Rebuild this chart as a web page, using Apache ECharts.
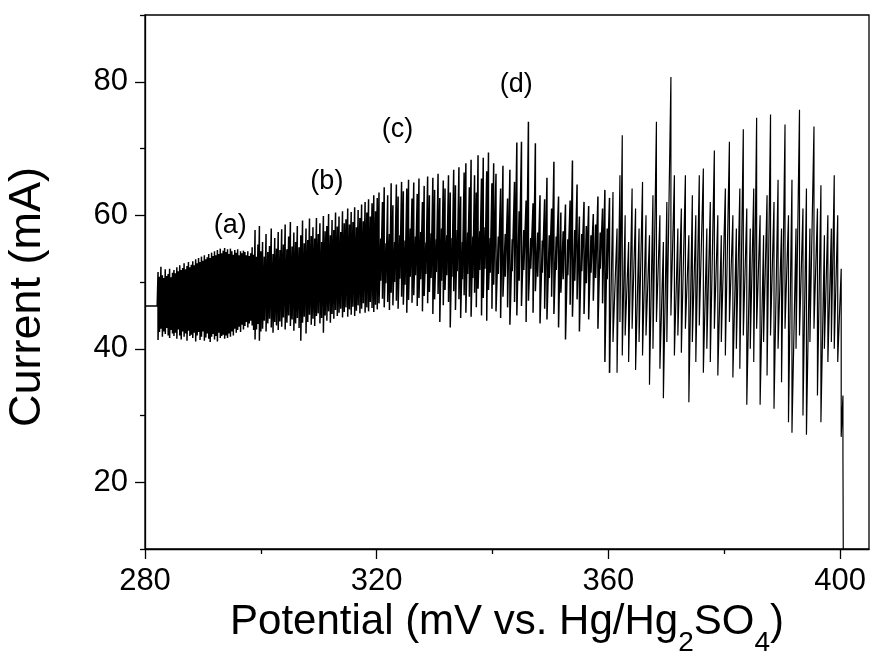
<!DOCTYPE html>
<html><head><meta charset="utf-8">
<script src="https://cdn.jsdelivr.net/npm/echarts@6/dist/echarts.min.js"></script>
<style>html,body{margin:0;padding:0;background:#fff}#c{width:872px;height:659px}</style>
</head><body><div id="c"></div>
<script>
// flat start of the trace
const leadPotential = [280, 282.1];
const leadCurrent = [46.4, 46.4];
// oscillations: potential (mV), upper current (mA), lower current (mA)
const oscPotential = [
282.25,282.5,282.75,283,283.25,283.5,283.75,284,284.25,284.5,284.75,285,
285.25,285.5,285.75,286,286.25,286.5,286.75,287,287.25,287.5,287.75,288,
288.25,288.5,288.75,289,289.25,289.5,289.75,290,290.25,290.5,290.75,291,
291.25,291.5,291.75,292,292.25,292.5,292.75,293,293.25,293.5,293.75,294,
294.25,294.5,294.75,295,295.25,295.5,295.75,296,296.25,296.5,296.75,297,
297.25,297.5,297.75,298,298.25,298.5,298.75,299,299.25,299.5,299.75,300,
300.3,300.6,300.9,301.2,301.5,301.8,302.1,302.4,302.7,303,
303.3,303.6,303.9,304.2,304.5,304.8,305.1,305.4,305.7,306,
306.3,306.6,306.9,307.2,307.5,307.8,308.1,308.4,308.7,309,
309.3,309.6,309.9,310.2,310.5,310.8,311.1,311.4,311.7,312,
312.3,312.6,312.9,313.2,313.5,313.8,314.1,314.4,314.7,315,
315.3,315.6,315.9,316.2,316.5,316.8,317.1,317.4,317.7,318,
318.3,318.6,318.9,319.2,319.5,319.8,320.1,
320.4,320.7,321,321.3,321.6,321.9,322.2,322.5,322.8,323.1,
323.4,323.7,324,324.3,324.6,324.9,325.2,325.5,325.8,326.1,
326.4,326.7,327,327.3,327.6,327.9,328.2,328.5,328.8,329.1,
329.4,329.7,330,330.3,330.6,330.9,331.2,331.5,331.8,332.1,
332.4,332.7,333,333.3,333.6,333.9,334.2,334.5,334.8,335.1,
335.4,335.7,336,336.3,336.6,336.9,337.2,337.5,337.8,338.1,
338.4,338.7,339,339.3,339.6,339.9,340.2,
340.6,341,341.4,341.8,342.2,342.6,343,343.4,343.8,344.2,
344.6,345,345.4,345.8,346.2,346.6,347,347.4,347.8,348.2,
348.6,349,349.4,349.8,350.2,350.6,351,351.4,351.8,352.2,
352.6,353,353.4,353.8,354.2,354.6,355,355.4,355.8,356.2,
356.6,357,357.4,357.8,358.2,358.6,359,359.4,359.8,360.2,
360.8,361.5,362.0,362.4,362.9,363.5,364.1,364.7,365.3,365.9,
366.5,367.1,367.7,368.3,368.9,369.5,370.1,370.8,371.4,372.0,
372.6,373.3,373.9,374.5,375.1,375.7,376.4,377.0,377.6,378.3,
378.9,379.5,380.2,380.9,381.5,382.1,382.7,383.3,383.9,384.5,
385.1,385.6,386.2,386.8,387.4,388.0,388.6,389.3,389.9,390.5,
391.1,391.7,392.4,393.0,393.6,394.2,394.8,395.5,396.1,396.7,
397.3,397.9,398.5,399.0,399.6,400.2,400.5
];
const oscHigh = [
51.5,50.8,52.3,51.0,50.6,51.9,50.9,51.2,52.0,50.7,51.4,51.8,
51.3,52.2,51.6,52.5,51.8,52.1,52.8,51.9,52.4,53.0,52.2,52.6,
53.1,52.5,53.4,52.8,53.6,53.0,53.8,53.2,54.0,53.4,53.7,54.2,
53.6,54.4,53.9,54.6,54.0,54.8,54.2,55.0,54.3,54.7,55.1,54.5,
54.9,54.2,55.0,54.6,54.1,54.8,54.4,54.9,54.0,54.6,54.3,54.7,
54.5,54.0,54.6,53.9,54.3,55.2,54.1,57.8,53.8,55.6,58.4,54.6,
56.0,53.8,57.2,54.5,55.4,58.0,54.2,56.6,55.0,57.5,
54.8,57.9,55.6,58.6,54.9,56.8,59.0,55.3,57.4,56.0,
58.4,55.2,57.0,59.2,55.8,58.0,56.3,59.5,56.9,58.2,
56.5,59.6,57.2,58.8,56.0,59.9,57.6,58.4,60.2,57.0,
59.3,57.8,60.4,58.3,59.8,57.5,60.6,58.8,59.4,61.0,
58.6,60.5,59.0,61.2,58.2,60.8,59.6,61.6,59.1,62.0,
60.4,62.4,59.8,61.8,63.0,60.6,62.6,
63.4,56.5,62.0,64.2,55.8,63.0,57.2,64.8,61.5,56.0,
64.6,62.8,57.0,65.0,63.6,56.2,64.0,65.3,58.0,62.5,
64.9,56.8,63.2,65.5,57.5,62.0,64.4,55.9,65.8,63.0,
57.3,65.6,63.8,56.4,66.2,62.6,58.0,65.2,64.0,57.0,
66.0,63.4,56.6,66.8,64.5,57.8,67.2,62.8,56.0,66.4,
67.8,57.4,64.2,68.3,56.8,66.0,63.4,69.0,57.6,65.5,
68.6,58.2,66.6,69.4,56.6,64.8,67.8,
66.2,56.8,64.0,67.4,57.2,62.5,66.8,56.4,65.0,70.9,
60.6,71.0,57.8,62.2,74.0,56.6,61.8,70.8,57.4,63.0,
56.2,62.4,65.6,57.0,61.0,68.0,56.8,62.8,60.4,57.6,
61.6,56.4,62.2,68.2,57.8,64.6,59.8,57.2,62.0,58.4,
61.4,57.0,60.2,58.6,62.8,57.4,61.0,63.8,58.0,62.6,
63.5,58.0,66.0,72.0,60.0,56.0,64.0,61.0,58.0,65.0,
60.0,57.0,63.0,74.0,60.0,56.0,62.0,80.7,66.0,58.0,
61.0,66.0,57.0,63.0,60.0,66.0,67.0,58.0,62.0,69.7,
60.0,57.0,64.0,71.0,60.0,58.0,64.0,72.9,61.0,58.0,
64.0,74.6,60.0,57.0,63.0,75.1,62.0,65.3,58.0,73.6,
60.0,65.3,58.0,75.8,61.0,64.0,58.0,73.3,61.0,64.5,
57.0,60.0,58.0,66.0,60.0,52.0,33.0
];
const oscLow = [
41.3,42.5,43.0,41.8,42.6,42.2,43.1,42.0,41.6,42.8,42.3,41.9,
42.4,41.5,42.9,42.0,41.4,42.6,41.8,42.3,41.2,42.7,41.9,42.1,
41.6,42.4,41.1,42.0,42.5,41.3,41.8,42.6,41.2,41.7,42.3,41.5,
41.0,41.8,42.2,41.4,41.9,41.1,42.4,41.6,41.9,42.1,41.5,42.0,
41.6,42.3,41.8,42.6,42.0,43.0,42.4,42.8,43.3,42.5,43.6,42.9,
43.4,44.0,43.2,43.8,44.2,43.5,42.8,41.4,42.9,43.7,41.2,42.6,
43.0,44.2,42.6,43.8,44.5,43.2,42.4,44.0,43.5,42.8,
44.1,43.3,44.7,42.9,43.9,45.0,43.4,44.4,42.7,43.8,
44.6,43.1,41.2,43.9,44.8,42.3,44.0,45.1,43.6,44.5,
43.4,44.9,45.3,43.8,44.6,42.4,45.0,44.2,45.6,43.9,
45.2,44.5,45.8,44.9,45.4,46.0,44.7,45.5,46.2,44.8,
45.9,45.1,46.3,44.9,45.7,46.5,45.3,46.0,46.8,45.4,
46.2,45.6,47.0,46.1,45.5,46.6,45.9,
46.8,50.2,47.5,46.2,49.8,47.0,45.8,48.4,46.5,50.0,
47.2,46.0,50.5,47.8,46.6,49.6,45.4,47.3,50.8,46.9,
48.0,51.0,46.4,47.6,50.4,45.6,47.9,51.2,46.8,48.5,
50.6,45.2,47.4,51.5,48.2,44.0,50.2,46.5,48.8,51.0,
47.0,43.2,50.8,48.6,45.8,51.6,47.4,44.6,50.4,48.0,
45.4,51.2,47.8,44.8,50.6,48.4,46.2,49.0,51.8,45.0,
47.6,52.0,44.2,48.8,51.4,46.0,49.6,
45.6,51.2,44.6,47.8,50.8,46.2,43.6,51.6,47.0,45.0,
50.2,46.4,51.8,44.0,47.2,52.0,45.4,48.6,50.8,43.8,
51.4,46.0,44.4,50.6,47.8,45.2,51.8,43.2,48.4,50.4,
41.4,51.0,46.6,44.8,50.2,47.4,42.6,51.6,45.2,49.8,
44.4,51.4,47.2,50.6,43.0,52.0,46.8,38.0,50.4,36.4,
41.0,36.4,44.0,39.0,42.0,38.0,43.0,36.8,41.0,39.0,
42.0,34.6,40.0,44.0,37.0,32.6,41.0,45.0,39.0,42.0,
39.4,43.0,32.0,41.0,38.0,43.5,36.4,40.0,38.0,43.0,
36.0,41.0,39.0,44.0,35.7,40.0,37.0,42.0,31.6,40.0,
38.0,43.0,31.6,41.0,36.0,42.0,31.0,40.0,35.0,43.0,
29.0,27.4,40.0,42.0,30.0,27.1,41.0,43.0,33.0,29.0,
40.0,38.0,41.0,40.0,38.0,26.8,24.0
];
// final collapse of the current
const endPotential = [400.6];
const endCurrent = [0];
// potential where the dense regime gives way to large oscillations
const regimeSplit = 360.2;

const xMajorTicks = [280, 320, 360, 400];
const xMinorTicks = [300, 340, 380];
const yMajorTicks = [20, 40, 60, 80];
const yMinorTicks = [10, 30, 50, 70, 90];

const noteTexts = ['(a)', '(b)', '(c)', '(d)'];
const notePotential = [294.7, 311.4, 323.6, 344.1];
const noteCurrent = [58.5, 65.0, 72.8, 79.6];

const FONT = '"Liberation Sans", Arial, sans-serif';

const dense = [], large = [];
for (let i = 0; i < leadPotential.length; i++) dense.push([leadPotential[i], leadCurrent[i]]);
for (let i = 0; i < oscPotential.length; i++) {
  const a = [oscPotential[i], oscHigh[i]], b = [oscPotential[i], oscLow[i]];
  if (oscPotential[i] <= regimeSplit) { dense.push(a, b); }
  else { large.push(a, b); }
}
large.unshift(dense[dense.length - 1]);
for (let i = 0; i < endPotential.length; i++) large.push([endPotential[i], endCurrent[i]]);

const notes = noteTexts.map((t, i) => ({ name: t, value: [notePotential[i], noteCurrent[i]] }));

const black = '#000';
const chart = echarts.init(document.getElementById('c'));
chart.setOption({
  animation: false,
  backgroundColor: '#fff',
  textStyle: { fontFamily: FONT },
  grid: { left: 145, right: 3, top: 15, bottom: 110, show: true, borderColor: black, borderWidth: 1.3,
          containLabel: false, outerBoundsMode: 'none' },
  xAxis: [{
    type: 'value', min: 280, max: 405, interval: 40, position: 'bottom',
    axisLine: { show: true, onZero: false, lineStyle: { color: black, width: 1.3 } },
    axisTick: { show: true, inside: false, length: 10, customValues: xMajorTicks, lineStyle: { color: black, width: 1.3 } },
    axisLabel: { customValues: xMajorTicks, fontSize: 31, color: black, fontFamily: FONT, margin: 17 },
    splitLine: { show: false },
    name: '{n|Potential (mV vs. Hg/Hg}{s|2}{n|SO}{s|4}{n|)}',
    nameLocation: 'middle', nameGap: 52,
    nameTextStyle: {
      color: black, fontFamily: FONT,
      rich: {
        n: { fontSize: 42, fontFamily: FONT, color: black, lineHeight: 44, verticalAlign: 'top' },
        s: { fontSize: 28, fontFamily: FONT, color: black, lineHeight: 28, padding: [27, 0, 0, 0], verticalAlign: 'top' }
      }
    }
  }, {
    type: 'value', min: 280, max: 405, interval: 40, position: 'bottom',
    axisLine: { show: false, onZero: false },
    axisTick: { show: true, inside: false, length: 5, customValues: xMinorTicks, lineStyle: { color: black, width: 1.3 } },
    axisLabel: { show: false },
    splitLine: { show: false }
  }],
  yAxis: [{
    type: 'value', min: 10, max: 90, interval: 10, position: 'left',
    axisLine: { show: true, onZero: false, lineStyle: { color: black, width: 1.3 } },
    axisTick: { show: true, inside: false, length: 10, customValues: yMajorTicks, lineStyle: { color: black, width: 1.3 } },
    axisLabel: { customValues: yMajorTicks, fontSize: 31, color: black, fontFamily: FONT, margin: 17 },
    splitLine: { show: false },
    name: 'Current (mA)', nameLocation: 'middle', nameGap: 95,
    nameTextStyle: { fontSize: 45, color: black, fontFamily: FONT, padding: [0, 30, 0, 0] }
  }, {
    type: 'value', min: 10, max: 90, interval: 10, position: 'left',
    axisLine: { show: false, onZero: false },
    axisTick: { show: true, inside: false, length: 5, customValues: yMinorTicks, lineStyle: { color: black, width: 1.3 } },
    axisLabel: { show: false },
    splitLine: { show: false }
  }],
  series: [{
    type: 'line', data: dense, xAxisIndex: 0, yAxisIndex: 0,
    symbol: 'none', showSymbol: false, clip: true, silent: true,
    lineStyle: { color: black, width: 1.5 }
  }, {
    type: 'line', data: large, xAxisIndex: 0, yAxisIndex: 0,
    symbol: 'none', showSymbol: false, clip: true, silent: true,
    lineStyle: { color: black, width: 1.2 }
  }, {
    type: 'scatter', data: notes, xAxisIndex: 0, yAxisIndex: 0,
    symbolSize: 1, itemStyle: { color: 'rgba(255,255,255,0)', opacity: 1 }, silent: true,
    label: { show: true, position: 'inside', formatter: p => p.name, fontSize: 27, color: '#000', opacity: 1,
             fontFamily: FONT, textBorderWidth: 0, textBorderColor: 'transparent' }
  }]
});
</script>
</body></html>
